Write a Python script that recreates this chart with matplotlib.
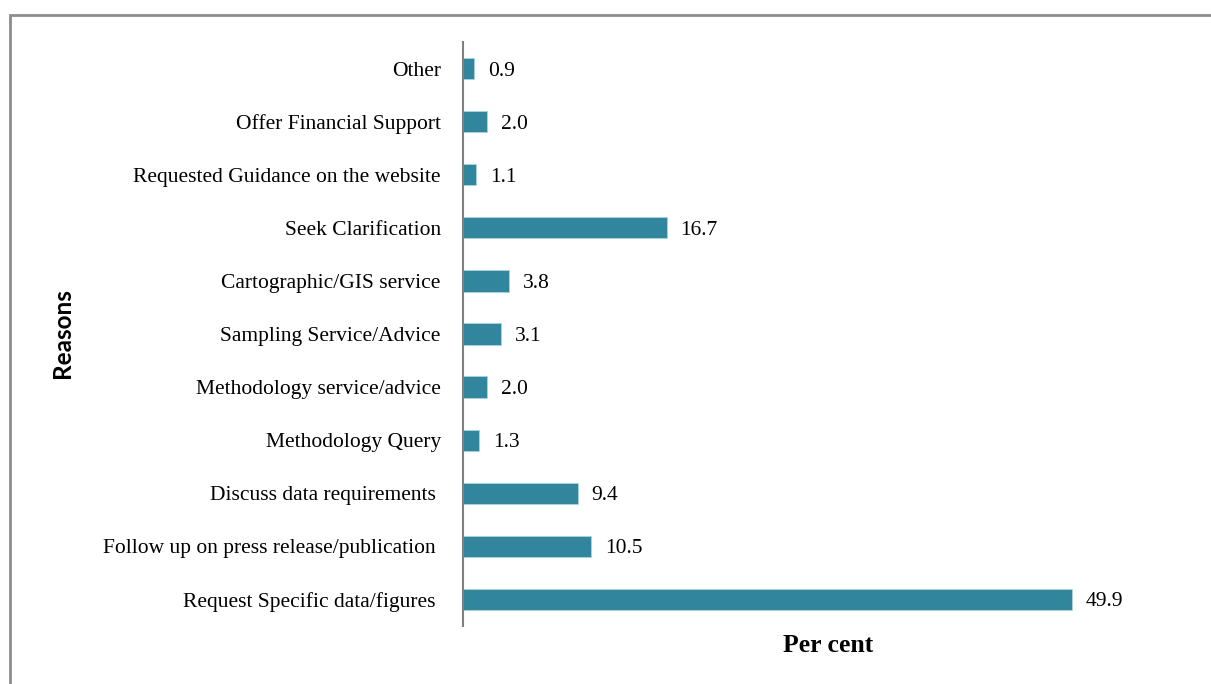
import matplotlib.pyplot as plt
from matplotlib.patches import Rectangle

reasons = ['Other', 'Offer Financial Support', 'Requested Guidance on the website',
           'Seek Clarification', 'Cartographic/GIS service', 'Sampling Service/Advice',
           'Methodology service/advice', 'Methodology Query', 'Discuss data requirements ',
           'Follow up on press release/publication ', 'Request Specific data/figures ']
percent = [0.9, 2.0, 1.1, 16.7, 3.8, 3.1, 2.0, 1.3, 9.4, 10.5, 49.9]

W, H = 1211, 684
fig = plt.figure(figsize=(W / 100, H / 100), dpi=100)

# outer frame (cut off at the right and bottom like the source)
fig.patches.append(Rectangle((10.5 / W, -0.1), 1.2, 1 - 14.5 / H + 0.1,
                             transform=fig.transFigure, fill=False,
                             edgecolor='#8c8c8c', linewidth=2))

ax = fig.add_axes([463 / W, 1 - 626 / H, 671 / W, (626 - 42) / H])
pos = list(range(len(reasons)))
ax.barh(pos, percent, height=0.4, color='#31859c', edgecolor='#a9d3de', linewidth=0.6)
ax.set_ylim(len(reasons) - 0.5, -0.5)
ax.set_xlim(0, 55)

for p, v in zip(pos, percent):
    ax.annotate(f'{v:.1f}', (v, p), xytext=(10, 0), textcoords='offset points',
                va='center_baseline', ha='left', family='Liberation Serif', fontsize=15.5)

ax.set_yticks(pos)
ax.set_yticklabels(reasons, family='Liberation Serif', fontsize=15.5)
ax.tick_params(axis='y', length=0, pad=16)
ax.set_xticks([])
for s in ['top', 'right', 'bottom']:
    ax.spines[s].set_visible(False)
ax.spines['left'].set_color('#808080')
ax.spines['left'].set_linewidth(1.5)

fig.text(828 / W, 1 - 646 / H, 'Per cent', ha='center', va='center',
         family='Liberation Serif', fontweight='bold', fontsize=18.5)
fig.text(62 / W, 1 - 333 / H, 'Reasons', ha='center', va='center', rotation=90,
         family='Lato', fontweight='bold', fontsize=17.5)

fig.savefig('out.png', dpi=100)
